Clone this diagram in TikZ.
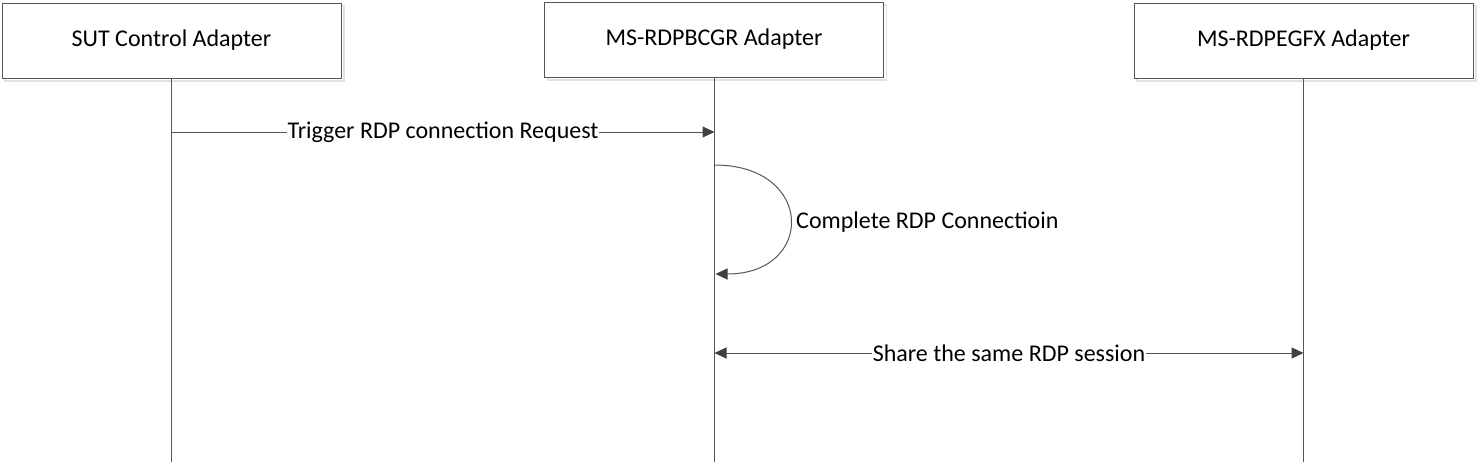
\documentclass[tikz,border=0pt]{standalone}
\usepackage{fontspec}
\setmainfont{Carlito}
\usetikzlibrary{arrows.meta}
\definecolor{linec}{RGB}{85,85,85}
\definecolor{tipc}{RGB}{64,64,64}
\definecolor{shadowc}{RGB}{225,225,225}
\tikzset{
  actor/.style={draw=linec, line width=1pt, fill=white, minimum width=339pt, minimum height=75pt, inner sep=0pt, font=\fontsize{24}{28}\selectfont},
  shadowbox/.style={draw=shadowc, line width=1.2pt, minimum width=339pt, minimum height=75pt, inner sep=0pt},
  life/.style={draw=linec, line width=0.9pt},
  msg/.style={draw=linec, line width=1pt, -{Triangle[length=12pt,width=11pt,fill=tipc,color=tipc]}},
  dmsg/.style={draw=linec, line width=1pt, {Triangle[length=12pt,width=11pt,fill=tipc,color=tipc]}-{Triangle[length=12pt,width=11pt,fill=tipc,color=tipc]}},
  lbl/.style={fill=white, inner sep=1pt, font=\fontsize{24}{28}\selectfont}
}
\begin{document}
\begin{tikzpicture}[x=1pt,y=-1pt]
\useasboundingbox (0,0) rectangle (1479,469);
% shadows
\node[shadowbox] (s1) at (174.5,43.5) {};
\node[shadowbox] (s2) at (717,42.5) {};
\node[shadowbox] (s3) at (1306.5,43.5) {};
% lifelines
\coordinate (l1) at (171.5,462);
\coordinate (l2) at (714.5,462);
\coordinate (l3) at (1303.5,462);
\node[actor] (sut) at (171.5,40.5) {SUT Control Adapter};
\node[actor] (bcgr) at (714,39.5) {MS-RDPBCGR Adapter};
\node[actor] (egfx) at (1303.5,40.5) {MS-RDPEGFX Adapter};
\draw[life] (sut.south -| l1) -- (l1);
\draw[life] (bcgr.south -| l2) -- (l2);
\draw[life] (egfx.south -| l3) -- (l3);
% messages
\coordinate (m1a) at (171.5,132);
\coordinate (m1b) at (714.5,132);
\draw[msg] (m1a) -- node[lbl] (t1) {Trigger RDP connection Request} (m1b);
\coordinate (m2a) at (714.5,165);
\coordinate (m2b) at (715.5,274);
\draw[msg] (m2a) .. controls (815,165) and (815,274) .. (m2b);
\node[lbl, anchor=west] (t2) at (795,222) {Complete RDP Connectioin};
\coordinate (m3a) at (714.5,353);
\coordinate (m3b) at (1303.5,353);
\draw[dmsg] (m3a) -- node[lbl] (t3) {Share the same RDP session} (m3b);
\end{tikzpicture}
\end{document}
